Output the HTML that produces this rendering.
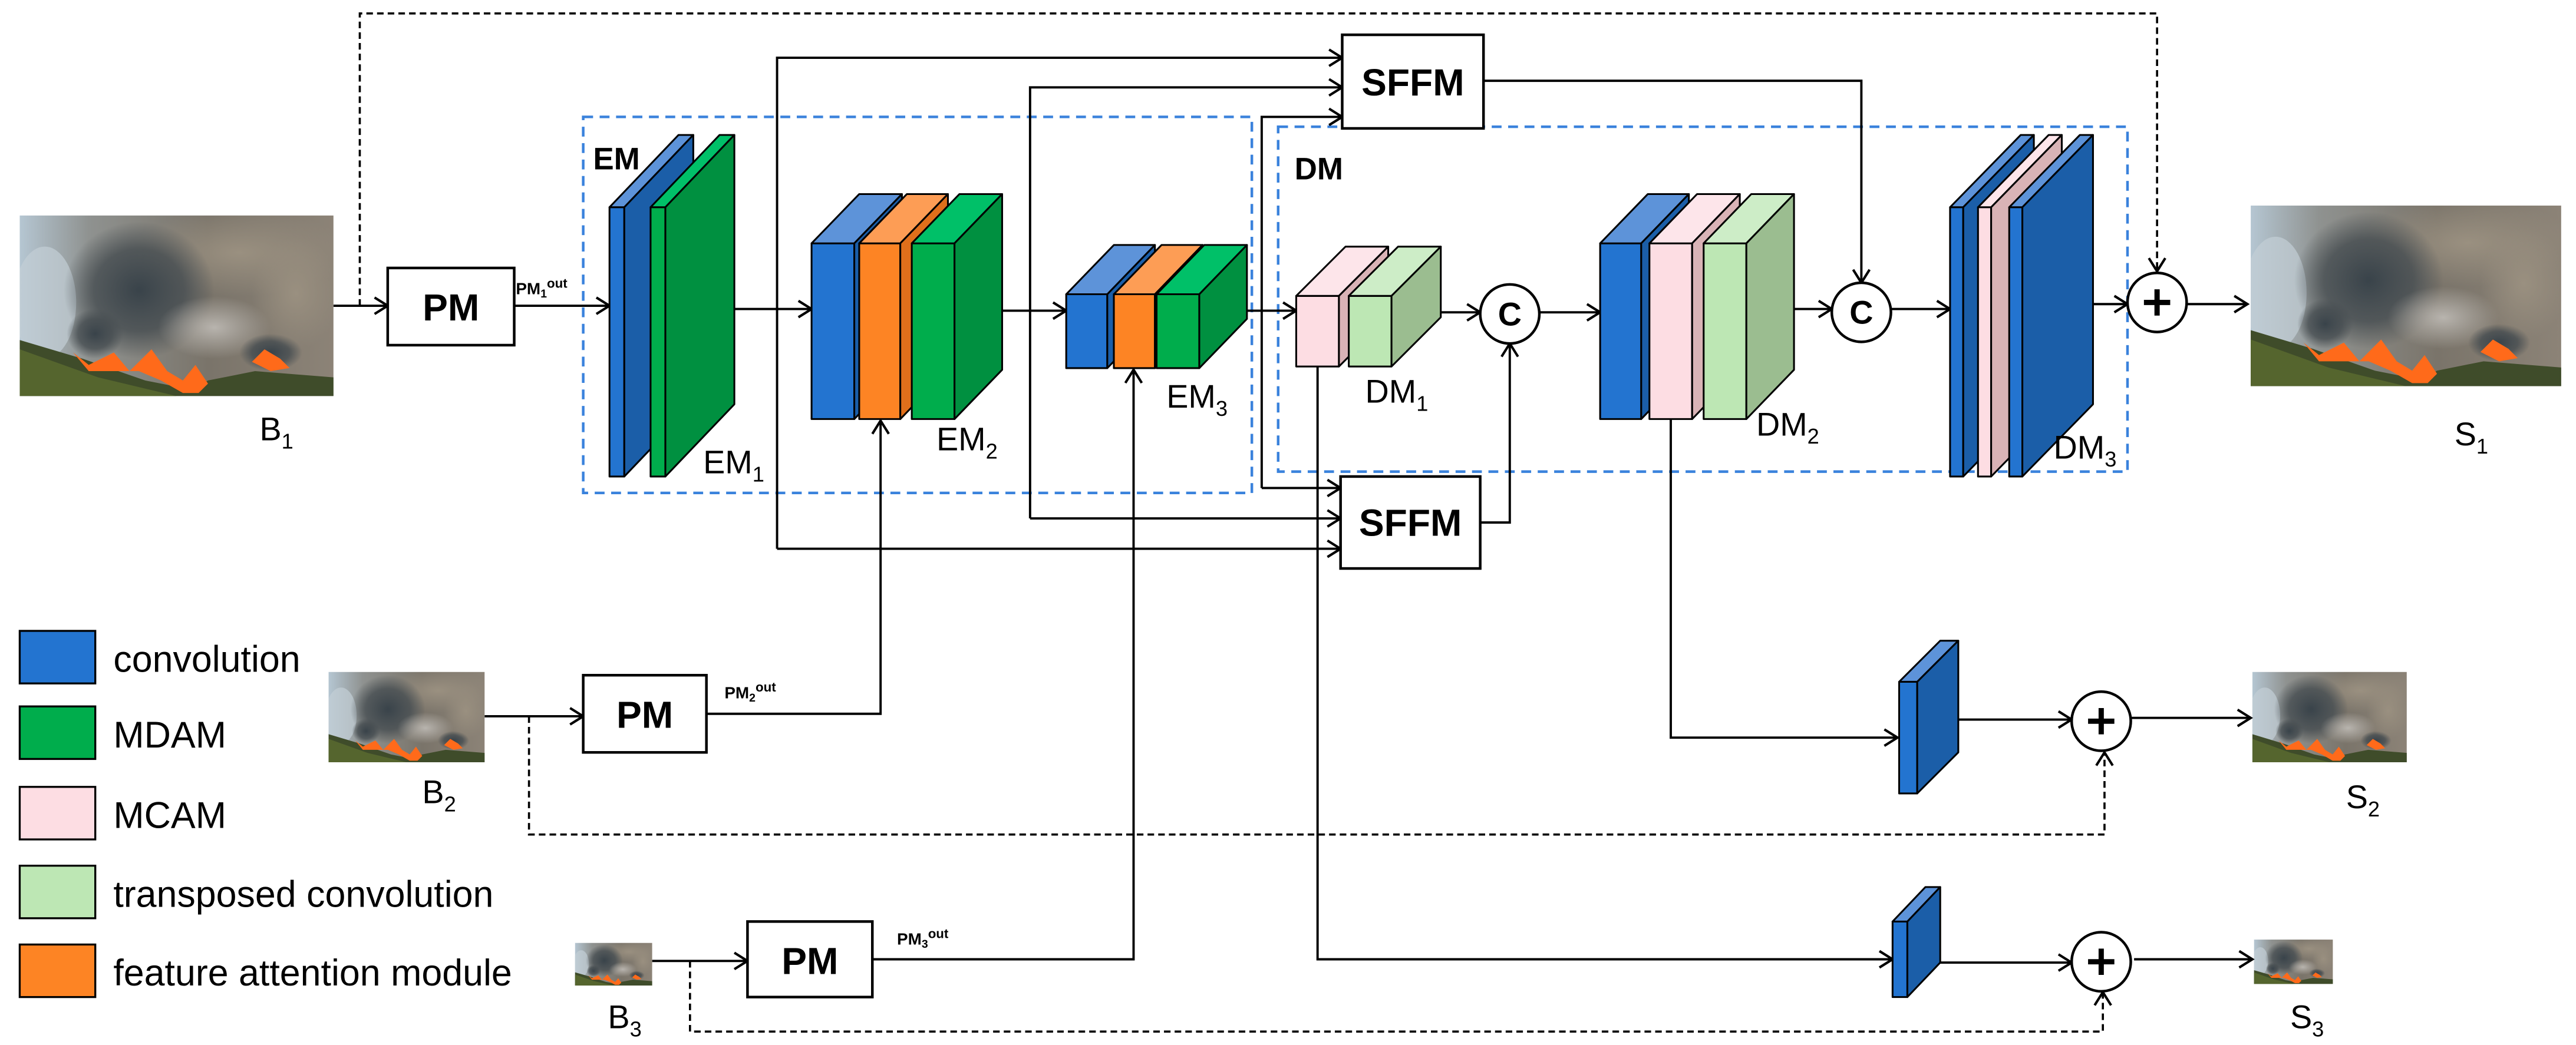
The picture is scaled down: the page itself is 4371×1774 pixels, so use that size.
<!DOCTYPE html>
<html><head><meta charset="utf-8"><style>html,body{margin:0;padding:0;background:#fff}svg{display:block}</style></head><body>
<svg xmlns="http://www.w3.org/2000/svg" width="4371" height="1774" viewBox="0 0 1568 636" font-family="Liberation Sans, Arial, sans-serif">
<defs>
<marker id="a" markerWidth="12" markerHeight="12" refX="9" refY="6" orient="auto" markerUnits="userSpaceOnUse"><path d="M1,1 L9,6 L1,11" fill="none" stroke="#000" stroke-width="1.5"/></marker>
<radialGradient id="sm1" cx="0.5" cy="0.5" r="0.5"><stop offset="0" stop-color="#39434a"/><stop offset="0.6" stop-color="#454c50" stop-opacity="0.8"/><stop offset="1" stop-color="#454c50" stop-opacity="0"/></radialGradient>
<radialGradient id="sm2" cx="0.5" cy="0.5" r="0.5"><stop offset="0" stop-color="#9a9080"/><stop offset="1" stop-color="#9a9080" stop-opacity="0"/></radialGradient>
<radialGradient id="sm3" cx="0.5" cy="0.5" r="0.5"><stop offset="0" stop-color="#b8b4ae"/><stop offset="1" stop-color="#b8b4ae" stop-opacity="0"/></radialGradient>
<linearGradient id="sky" x1="0" y1="0" x2="1" y2="0"><stop offset="0" stop-color="#b5c6d2"/><stop offset="0.22" stop-color="#8f9290"/><stop offset="0.6" stop-color="#7a746a"/><stop offset="1" stop-color="#8c8377"/></linearGradient>
<symbol id="fire" viewBox="0 0 100 58" preserveAspectRatio="none">
<rect width="100" height="58" fill="url(#sky)"/>
<ellipse cx="8" cy="28" rx="10" ry="18" fill="#c3ced6" opacity="0.7"/>
<ellipse cx="70" cy="12" rx="35" ry="14" fill="url(#sm2)"/>
<ellipse cx="38" cy="24" rx="24" ry="22" fill="url(#sm1)"/>
<ellipse cx="24" cy="38" rx="9" ry="8" fill="url(#sm1)"/>
<ellipse cx="62" cy="36" rx="18" ry="10" fill="url(#sm3)"/>
<ellipse cx="80" cy="44" rx="10" ry="6" fill="url(#sm1)"/>
<ellipse cx="88" cy="25" rx="14" ry="18" fill="url(#sm2)"/>
<path d="M0,40 L20,46 L40,53 L55,56 L60,53 L75,50 L100,52 L100,58 L0,58Z" fill="#3f4c2a"/>
<path d="M0,43 L25,52 L50,58 L0,58Z" fill="#55652e"/>
<path d="M17,44 L22,48 L30,44 L35,50 L42,43 L47,50 L52,53 L56,48 L60,54 L57,57 L52,57 L45,53 L38,50 L30,50 L22,50Z" fill="#ff6a1a"/>
<path d="M74,47 L78,43 L83,46 L86,49 L80,50Z" fill="#ff6a1a"/>
</symbol>
</defs>
<rect width="1568" height="636" fill="#fff"/>

<use href="#fire" x="12" y="131" width="191" height="110"/>
<use href="#fire" x="1370" y="125" width="189" height="110"/>
<use href="#fire" x="200" y="409" width="95" height="55"/>
<use href="#fire" x="1371" y="409" width="94" height="55"/>
<use href="#fire" x="350" y="574" width="47" height="26"/>
<use href="#fire" x="1372" y="572" width="48" height="27"/>

<g fill="none" stroke="#3a82dc" stroke-width="1.6" stroke-dasharray="6,4">
<rect x="355" y="71" width="407" height="229"/>
<rect x="778" y="77" width="517" height="210"/>
</g>

<g fill="none" stroke="#000" stroke-width="1.4">
<line x1="203" y1="186" x2="236" y2="186" marker-end="url(#a)"/>
<line x1="313" y1="186" x2="371" y2="186" marker-end="url(#a)"/>
<line x1="439" y1="188" x2="494" y2="188" marker-end="url(#a)"/>
<line x1="593" y1="189" x2="649" y2="189" marker-end="url(#a)"/>
<line x1="742" y1="189" x2="789" y2="189" marker-end="url(#a)"/>
<line x1="854" y1="190" x2="901" y2="190" marker-end="url(#a)"/>
<line x1="937" y1="190" x2="974" y2="190" marker-end="url(#a)"/>
<line x1="1079" y1="188" x2="1115" y2="188" marker-end="url(#a)"/>
<line x1="1151" y1="188" x2="1187" y2="188" marker-end="url(#a)"/>
<line x1="1260" y1="185" x2="1295" y2="185" marker-end="url(#a)"/>
<line x1="1331" y1="185" x2="1368" y2="185" marker-end="url(#a)"/>
<polyline points="473,334 473,35 817,35" marker-end="url(#a)"/>
<polyline points="473,334 816,334" marker-end="url(#a)"/>
<polyline points="627,315.5 627,53 817,53" marker-end="url(#a)"/>
<polyline points="627,315.5 816,315.5" marker-end="url(#a)"/>
<polyline points="768,297 768,71 817,71" marker-end="url(#a)"/>
<polyline points="768,297 816,297" marker-end="url(#a)"/>
<polyline points="903,49 1133,49 1133,172" marker-end="url(#a)"/>
<polyline points="901,318 919,318 919,209" marker-end="url(#a)"/>
<polyline points="802,223 802,584 1152,584" marker-end="url(#a)"/>
<polyline points="1017,255 1017,449 1155,449" marker-end="url(#a)"/>
<line x1="1189" y1="438" x2="1261" y2="438" marker-end="url(#a)"/>
<line x1="1297" y1="437" x2="1370" y2="437" marker-end="url(#a)"/>
<line x1="1180" y1="586" x2="1261" y2="586" marker-end="url(#a)"/>
<line x1="1299" y1="584" x2="1371" y2="584" marker-end="url(#a)"/>
<line x1="295" y1="436" x2="355" y2="436" marker-end="url(#a)"/>
<polyline points="430,434.5 536,434.5 536,256" marker-end="url(#a)"/>
<line x1="397" y1="585" x2="455" y2="585" marker-end="url(#a)"/>
<polyline points="531,584 690,584 690,225" marker-end="url(#a)"/>
</g>
<g fill="none" stroke="#000" stroke-width="1.3" stroke-dasharray="4,2.5">
<polyline points="219,186 219,8 1313,8 1313,165" marker-end="url(#a)"/>
<polyline points="322,436 322,508 1281,508 1281,458" marker-end="url(#a)"/>
<polyline points="420,585 420,628 1280,628 1280,604" marker-end="url(#a)"/>
</g>

<g fill="#fff" stroke="#000" stroke-width="1.6">
<rect x="236" y="163" width="77" height="47"/>
<rect x="355" y="411" width="75" height="47"/>
<rect x="455" y="561" width="76" height="46"/>
<rect x="817" y="21" width="86" height="57"/>
<rect x="816" y="290" width="85" height="56"/>
</g>
<g font-weight="bold" text-anchor="middle" fill="#000">
<text x="274.5" y="195" font-size="23">PM</text>
<text x="392.5" y="443" font-size="23">PM</text>
<text x="493" y="593" font-size="23">PM</text>
<text x="860" y="58" font-size="23">SFFM</text>
<text x="858.5" y="326" font-size="23">SFFM</text>
</g>
<g font-weight="bold" font-size="10" fill="#000">
<text x="314" y="179">PM<tspan font-size="7" dy="2">1</tspan><tspan font-size="8" dy="-6">out</tspan></text>
<text x="441" y="425">PM<tspan font-size="7" dy="2">2</tspan><tspan font-size="8" dy="-6">out</tspan></text>
<text x="546" y="575">PM<tspan font-size="7" dy="2">3</tspan><tspan font-size="8" dy="-6">out</tspan></text>
</g>

<g stroke="#000" stroke-width="1.1" stroke-linejoin="round">
<rect x="371" y="126" width="9" height="164" fill="#2374d0"/><polygon points="371,126 380,126 422,82 413,82" fill="#5d93d9"/><polygon points="380,126 422,82 422,246 380,290" fill="#1b5ea8"/>
<rect x="396" y="126" width="9" height="164" fill="#00ad4c"/><polygon points="396,126 405,126 447,82 438,82" fill="#00c068"/><polygon points="405,126 447,82 447,246 405,290" fill="#009040"/>
<rect x="494" y="148" width="26" height="107" fill="#2374d0"/><polygon points="494,148 520,148 549,118 523,118" fill="#5d93d9"/><polygon points="520,148 549,118 549,225 520,255" fill="#1b5ea8"/>
<rect x="523" y="148" width="25" height="107" fill="#fd8424"/><polygon points="523,148 548,148 577,118 552,118" fill="#fd9d55"/><polygon points="548,148 577,118 577,225 548,255" fill="#e06f1b"/>
<rect x="555" y="148" width="26" height="107" fill="#00ad4c"/><polygon points="555,148 581,148 610,118 584,118" fill="#00c068"/><polygon points="581,148 610,118 610,225 581,255" fill="#009040"/>
<rect x="649" y="179" width="25" height="45" fill="#2374d0"/><polygon points="649,179 674,179 703,149 678,149" fill="#5d93d9"/><polygon points="674,179 703,149 703,194 674,224" fill="#1b5ea8"/>
<rect x="678" y="179" width="25" height="45" fill="#fd8424"/><polygon points="678,179 703,179 732,149 707,149" fill="#fd9d55"/><polygon points="703,179 732,149 732,194 703,224" fill="#e06f1b"/>
<rect x="704" y="179" width="26" height="45" fill="#00ad4c"/><polygon points="704,179 730,179 759,149 733,149" fill="#00c068"/><polygon points="730,179 759,149 759,194 730,224" fill="#009040"/>
<rect x="789" y="180" width="26" height="43" fill="#fddde3"/><polygon points="789,180 815,180 845,150 819,150" fill="#fde5ea"/><polygon points="815,180 845,150 845,193 815,223" fill="#d9b3b6"/>
<rect x="821" y="180" width="26" height="43" fill="#bde7b4"/><polygon points="821,180 847,180 877,150 851,150" fill="#cdedc7"/><polygon points="847,180 877,150 877,193 847,223" fill="#9bbd90"/>
<rect x="974" y="148" width="25" height="107" fill="#2374d0"/><polygon points="974,148 999,148 1028,118 1003,118" fill="#5d93d9"/><polygon points="999,148 1028,118 1028,225 999,255" fill="#1b5ea8"/>
<rect x="1004" y="148" width="26" height="107" fill="#fddde3"/><polygon points="1004,148 1030,148 1059,118 1033,118" fill="#fde5ea"/><polygon points="1030,148 1059,118 1059,225 1030,255" fill="#d9b3b6"/>
<rect x="1037" y="148" width="26" height="107" fill="#bde7b4"/><polygon points="1037,148 1063,148 1092,118 1066,118" fill="#cdedc7"/><polygon points="1063,148 1092,118 1092,225 1063,255" fill="#9bbd90"/>
<rect x="1187" y="126" width="8" height="164" fill="#2374d0"/><polygon points="1187,126 1195,126 1238,82 1230,82" fill="#5d93d9"/><polygon points="1195,126 1238,82 1238,246 1195,290" fill="#1b5ea8"/>
<rect x="1204" y="126" width="8" height="164" fill="#fddde3"/><polygon points="1204,126 1212,126 1255,82 1247,82" fill="#fde5ea"/><polygon points="1212,126 1255,82 1255,246 1212,290" fill="#d9b3b6"/>
<rect x="1223" y="126" width="8" height="164" fill="#2374d0"/><polygon points="1223,126 1231,126 1274,82 1266,82" fill="#5d93d9"/><polygon points="1231,126 1274,82 1274,246 1231,290" fill="#1b5ea8"/>
<rect x="1156" y="415" width="11" height="68" fill="#2374d0"/><polygon points="1156,415 1167,415 1192,390 1181,390" fill="#5d93d9"/><polygon points="1167,415 1192,390 1192,458 1167,483" fill="#1b5ea8"/>
<rect x="1152" y="561" width="9" height="46" fill="#2374d0"/><polygon points="1152,561 1161,561 1181,540 1172,540" fill="#5d93d9"/><polygon points="1161,561 1181,540 1181,586 1161,607" fill="#1b5ea8"/>
</g>

<g fill="#fff" stroke="#000" stroke-width="1.6">
<circle cx="919" cy="191" r="18"/><circle cx="1133" cy="190" r="18"/>
<circle cx="1313" cy="184" r="18"/><circle cx="1279" cy="439" r="18"/><circle cx="1279" cy="585.5" r="18"/>
</g>
<g font-weight="bold" font-size="20" text-anchor="middle"><text x="919" y="198">C</text><text x="1133" y="197">C</text></g>
<g stroke="#000" stroke-width="3.2">
<path d="M1305,184 H1321 M1313,176 V192"/><path d="M1271,439 H1287 M1279,431 V447"/><path d="M1271,585.5 H1287 M1279,577.5 V593.5"/>
</g>

<g font-size="20" fill="#000">
<text x="361" y="103" font-weight="bold" font-size="19">EM</text>
<text x="788" y="109" font-weight="bold" font-size="19">DM</text>
<text x="428" y="288">EM<tspan font-size="13" dy="5">1</tspan></text>
<text x="570" y="274">EM<tspan font-size="13" dy="5">2</tspan></text>
<text x="710" y="248">EM<tspan font-size="13" dy="5">3</tspan></text>
<text x="831" y="245">DM<tspan font-size="13" dy="5">1</tspan></text>
<text x="1069" y="265">DM<tspan font-size="13" dy="5">2</tspan></text>
<text x="1250" y="279">DM<tspan font-size="13" dy="5">3</tspan></text>
<text x="158" y="268">B<tspan font-size="13" dy="5">1</tspan></text>
<text x="257" y="489">B<tspan font-size="13" dy="5">2</tspan></text>
<text x="370" y="626">B<tspan font-size="13" dy="5">3</tspan></text>
<text x="1494" y="271">S<tspan font-size="13" dy="5">1</tspan></text>
<text x="1428" y="492">S<tspan font-size="13" dy="5">2</tspan></text>
<text x="1394" y="626">S<tspan font-size="13" dy="5">3</tspan></text>
</g>

<g stroke="#000" stroke-width="1.2">
<rect x="12" y="384" width="46" height="32" fill="#2374d0"/>
<rect x="12" y="430" width="46" height="32" fill="#00ad4c"/>
<rect x="12" y="479" width="46" height="32" fill="#fddde3"/>
<rect x="12" y="527" width="46" height="32" fill="#bde7b4"/>
<rect x="12" y="575" width="46" height="32" fill="#fd8424"/>
</g>
<g font-size="22.5" fill="#000">
<text x="69" y="409">convolution</text>
<text x="69" y="455">MDAM</text>
<text x="69" y="504">MCAM</text>
<text x="69" y="552">transposed convolution</text>
<text x="69" y="600">feature attention module</text>
</g>
</svg>
</body></html>
